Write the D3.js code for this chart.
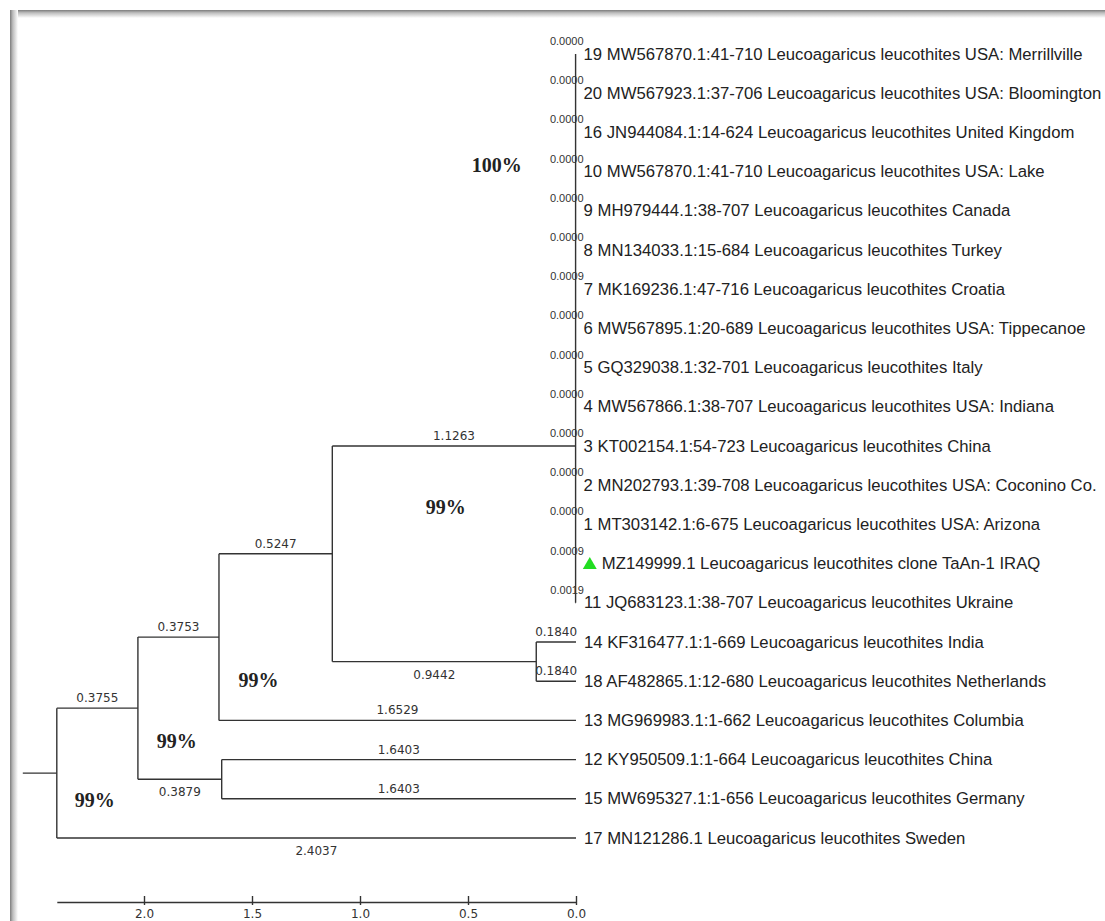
<!DOCTYPE html>
<html>
<head>
<meta charset="utf-8">
<script src="https://cdn.jsdelivr.net/npm/d3@7"></script>
<style>
  html, body { margin: 0; padding: 0; background: #ffffff; }
  svg { display: block; }
</style>
</head>
<body>
<svg id="chart" width="1105" height="921"></svg>
<script>
// ---------------- DATA ----------------
const tipIds = ["19","20","16","10","9","8","7","6","5","4","3","2","1","IRAQ","11","14","18","13","12","15","17"];
const tipNames = [
  "19 MW567870.1:41-710 Leucoagaricus leucothites USA: Merrillville",
  "20 MW567923.1:37-706 Leucoagaricus leucothites USA: Bloomington",
  "16 JN944084.1:14-624 Leucoagaricus leucothites United Kingdom",
  "10 MW567870.1:41-710 Leucoagaricus leucothites USA: Lake",
  "9 MH979444.1:38-707 Leucoagaricus leucothites Canada",
  "8 MN134033.1:15-684 Leucoagaricus leucothites Turkey",
  "7 MK169236.1:47-716 Leucoagaricus leucothites Croatia",
  "6 MW567895.1:20-689 Leucoagaricus leucothites USA: Tippecanoe",
  "5 GQ329038.1:32-701 Leucoagaricus leucothites Italy",
  "4 MW567866.1:38-707 Leucoagaricus leucothites USA: Indiana",
  "3 KT002154.1:54-723 Leucoagaricus leucothites China",
  "2 MN202793.1:39-708 Leucoagaricus leucothites USA: Coconino Co.",
  "1 MT303142.1:6-675 Leucoagaricus leucothites USA: Arizona",
  "MZ149999.1 Leucoagaricus leucothites clone TaAn-1 IRAQ",
  "11 JQ683123.1:38-707 Leucoagaricus leucothites Ukraine",
  "14 KF316477.1:1-669 Leucoagaricus leucothites India",
  "18 AF482865.1:12-680 Leucoagaricus leucothites Netherlands",
  "13 MG969983.1:1-662 Leucoagaricus leucothites Columbia",
  "12 KY950509.1:1-664 Leucoagaricus leucothites China",
  "15 MW695327.1:1-656 Leucoagaricus leucothites Germany",
  "17 MN121286.1 Leucoagaricus leucothites Sweden"
];
const tipParents = ["E","E","E","E","E","E","E","E","E","E","E","E","E","E","E","F","F","B","C","C","root"];
const tipLengths = [0.0000,0.0000,0.0000,0.0000,0.0000,0.0000,0.0009,0.0000,0.0000,0.0000,0.0000,0.0000,0.0000,0.0009,0.0019,0.1840,0.1840,1.6529,1.6403,1.6403,2.4037];

const nodeIds     = ["root","A","B","C","D","E","F"];
const nodeParents = [null,"root","A","A","B","D","D"];
const nodeLengths = [0,0.3755,0.3753,0.3879,0.5247,1.1263,0.9442];

// node E (the polytomy) is drawn level with the row of tip "3"
const anchorNode = "E";
const anchorTip = "3";
const highlightTip = "IRAQ";

const axisTicks = [2.0, 1.5, 1.0, 0.5, 0.0];

// bootstrap annotations: text, distance-from-tips (axis units), row position
const bootstrapText = ["99%","99%","99%","99%","100%"];
const bootstrapDist = [2.2282, 1.8479, 1.4699, 0.6025, 0.3671];
const bootstrapRow  = [19.21, 17.71, 16.15, 11.73, 3.00];

// ---------------- LAYOUT / STYLE ----------------
const W = 1105, H = 921;
const tipX = 576, pxPerUnit = 216;
const row0 = 54, rowStep = 39.2;
const lineColor = "#333333", lineWidth = 1.4;
const belowLabels = new Set(["17","C","F"]);

const svg = d3.select("#chart");

// frame shadow (left & top)
const defs = svg.append("defs");
const gl = defs.append("linearGradient").attr("id","gl").attr("x1","0").attr("x2","1").attr("y1","0").attr("y2","0");
gl.append("stop").attr("offset","0").attr("stop-color","#7c7c7c");
gl.append("stop").attr("offset","0.35").attr("stop-color","#bdbdbd");
gl.append("stop").attr("offset","1").attr("stop-color","#ffffff");
const gt = defs.append("linearGradient").attr("id","gt").attr("x1","0").attr("x2","0").attr("y1","0").attr("y2","1");
gt.append("stop").attr("offset","0").attr("stop-color","#7c7c7c");
gt.append("stop").attr("offset","0.35").attr("stop-color","#bdbdbd");
gt.append("stop").attr("offset","1").attr("stop-color","#ffffff");
svg.append("rect").attr("x",10).attr("y",10).attr("width",W-10).attr("height",8).attr("fill","url(#gt)");
svg.append("rect").attr("x",10).attr("y",10).attr("width",8).attr("height",H-10).attr("fill","url(#gl)");

// build tree
const rows = [];
nodeIds.forEach((id,i) => rows.push({id, parent: nodeParents[i], len: nodeLengths[i], tip:false}));
tipIds.forEach((id,i) => rows.push({id, parent: tipParents[i], len: tipLengths[i], tip:true, name: tipNames[i], index:i}));
const root = d3.stratify().id(d => d.id).parentId(d => d.parent)(rows);

root.eachBefore(n => { n.dist = n.parent ? n.parent.dist + n.data.len : 0; });
const total = d3.max(root.leaves(), l => l.dist);

const x = d3.scaleLinear().domain([total, 0]).range([tipX - total*pxPerUnit, tipX]);
const y = d3.scaleLinear().domain([0, 1]).range([row0, row0 + rowStep]);

const tipIndex = new Map(tipIds.map((id,i) => [id,i]));
root.eachAfter(n => {
  n.px = x(total - n.dist);
  if (!n.children) n.py = y(n.data.index);
  else if (n.id === anchorNode) n.py = y(tipIndex.get(anchorTip));
  else n.py = (n.children[0].py + n.children[n.children.length-1].py) / 2;
});

const g = svg.append("g");

// horizontal branches
g.selectAll("line.h").data(root.descendants().filter(n => n.parent)).join("line")
  .attr("x1", d => d.parent.px).attr("x2", d => d.px)
  .attr("y1", d => d.py).attr("y2", d => d.py)
  .attr("stroke", lineColor).attr("stroke-width", lineWidth);

// vertical connectors
g.selectAll("line.v").data(root.descendants().filter(n => n.children)).join("line")
  .attr("x1", d => d.px).attr("x2", d => d.px)
  .attr("y1", d => d.children[0].py).attr("y2", d => d.children[d.children.length-1].py)
  .attr("stroke", lineColor).attr("stroke-width", lineWidth);

// root stub
g.append("line").attr("x1", root.px - 34).attr("x2", root.px)
  .attr("y1", root.py).attr("y2", root.py)
  .attr("stroke", lineColor).attr("stroke-width", lineWidth);

const fmt4 = d3.format(".4f");

// branch length labels (normal branches)
g.selectAll("text.bl").data(root.descendants().filter(n => n.parent && n.data.len >= 0.01)).join("text")
  .attr("x", d => (d.parent.px + d.px) / 2)
  .attr("y", d => belowLabels.has(d.id) ? d.py + 17 : d.py - 6)
  .attr("text-anchor", "middle")
  .attr("font-family", "'DejaVu Sans', Verdana, sans-serif")
  .attr("font-size", 12).attr("fill", "#333")
  .text(d => fmt4(d.data.len));

// branch length labels (near-zero tips)
g.selectAll("text.bz").data(root.leaves().filter(n => n.data.len < 0.01)).join("text")
  .attr("x", d => d.px + 8)
  .attr("y", d => d.py - 9)
  .attr("text-anchor", "end")
  .attr("font-family", "'Liberation Sans', Arial, sans-serif")
  .attr("font-size", 11).attr("fill", "#333")
  .text(d => fmt4(d.data.len));

// highlight marker
const hl = root.leaves().find(n => n.id === highlightTip);
g.append("path")
  .attr("d", d3.symbol(d3.symbolTriangle, 84)())
  .attr("transform", `translate(${hl.px + 14},${hl.py + 1.5})`)
  .attr("fill", "#22dd22");

// tip labels
g.selectAll("text.tip").data(root.leaves()).join("text")
  .attr("x", d => d.px + (d.id === highlightTip ? 26 : 8))
  .attr("y", d => d.py + 5.5)
  .attr("font-family", "'Liberation Sans', Arial, sans-serif")
  .attr("font-size", 16.7).attr("fill", "#222")
  .text(d => d.data.name);

// bootstrap annotations
g.selectAll("text.bs").data(bootstrapText).join("text")
  .attr("x", (d,i) => x(bootstrapDist[i]))
  .attr("y", (d,i) => y(bootstrapRow[i]))
  .attr("text-anchor", "middle")
  .attr("font-family", "'Liberation Serif', 'Times New Roman', serif")
  .attr("font-weight", "bold")
  .attr("font-size", 20).attr("fill", "#222")
  .text(d => d);

// scale axis
const axis = d3.axisBottom(x).tickValues(axisTicks).tickFormat(d3.format(".1f"))
  .tickSizeInner(-6).tickSizeOuter(0).tickPadding(7);
const ag = svg.append("g").attr("transform", "translate(0,902)").call(axis);
ag.select(".domain").attr("stroke", lineColor).attr("stroke-width", lineWidth);
ag.selectAll(".tick line").attr("y1", 3).attr("stroke", lineColor).attr("stroke-width", lineWidth);
ag.selectAll(".tick text").attr("fill", "#333")
  .attr("font-family", "'DejaVu Sans', Verdana, sans-serif").attr("font-size", 12);
</script>
</body>
</html>
